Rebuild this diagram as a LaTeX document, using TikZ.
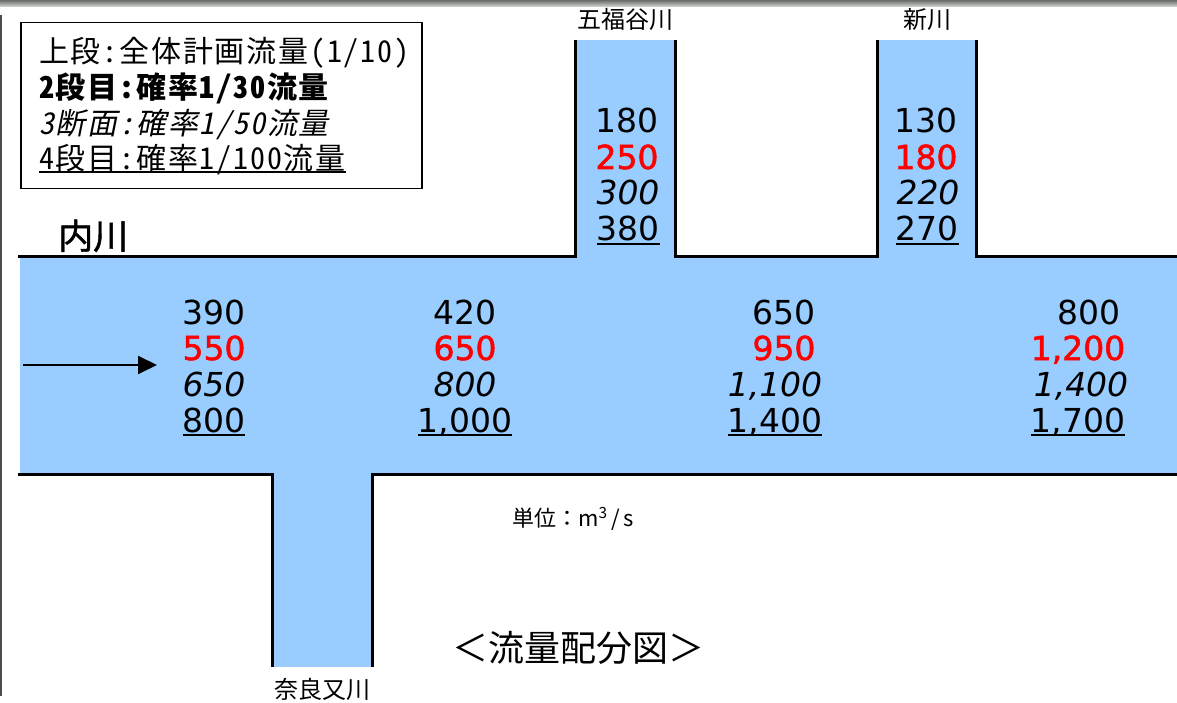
\documentclass[tikz,border=0pt]{standalone}
\usepackage{fontspec}
\usetikzlibrary{arrows.meta}
\newfontfamily\jp{Noto Sans CJK JP}
\newfontfamily\jpleg{Noto Sans CJK JP}[RawFeature=+hwid, LetterSpace=6]
\newfontfamily\jpsl{Noto Sans CJK JP}[FakeSlant=0.2, RawFeature=+hwid, LetterSpace=6]
\newfontfamily\jpfb{Noto Sans CJK JP}[FakeBold=1.2]
\newfontfamily\numf{DejaVu Sans}
\newfontfamily\numfb{DejaVu Sans}[FakeBold=1.6]
\definecolor{river}{HTML}{99CCFF}
\definecolor{barTop}{RGB}{105,108,105}
\definecolor{barBot}{RGB}{215,220,215}
\newcommand\uln[2][1.8pt]{\setbox0\hbox{#2}\rlap{\rule[-0.11em]{\wd0}{#1}}\box0}
\tikzset{
  wall/.style={line width=3pt, black},
  num/.style={font=\numf\fontsize{33pt}{36pt}\selectfont, inner sep=0pt, anchor=base},
  numr/.style={font=\numfb\fontsize{33pt}{36pt}\selectfont, inner sep=0pt, anchor=base, text=red},
  numi/.style={font=\numf\itshape\fontsize{33pt}{36pt}\selectfont, inner sep=0pt, anchor=base},
  lbl/.style={font=\jp\fontsize{24pt}{28pt}\selectfont, inner sep=0pt, anchor=base},
  leg/.style={font=\jpleg\fontsize{30pt}{32pt}\selectfont, inner sep=0pt, anchor=base west},
}
\begin{document}
\begin{tikzpicture}[x=1pt,y=-1pt]
\useasboundingbox (0,0) rectangle (1177,703);
\fill[white] (0,0) rectangle (1177,703);
% top bar and left edge
\shade[top color=barTop, bottom color=barBot] (0,0) rectangle (1177,7);
\draw[line width=2pt, gray!60!black] (1,15) -- (1,696);
% river fill
\fill[river] (20,258) rectangle (1177,473);
\fill[river] (575,40) rectangle (675,259);
\fill[river] (877,40) rectangle (976,259);
\fill[river] (272,472) rectangle (372,667);
% river banks
\draw[wall] (18,257) -- (575,257) -- (575,40);
\draw[wall] (675,40) -- (675,257) -- (877,257) -- (877,40);
\draw[wall] (976,40) -- (976,257) -- (1177,257);
\draw[wall] (18,474) -- (272,474) -- (272,667);
\draw[wall] (372,667) -- (372,474) -- (1177,474);
% legend
\node[draw, line width=1.5pt, minimum width=401pt, minimum height=166pt, anchor=north west, inner sep=0pt] (legend) at (20,22) {};
\node[leg] (l1) at (39,63) {上段:全体計画流量(1/10)};
\node[leg, font=\jpleg\bfseries\fontsize{30pt}{32pt}\selectfont] (l2) at (39,99) {2段目:確率1/30流量};
\node[leg, font=\jpsl\fontsize{30pt}{32pt}\selectfont] (l3) at (39,135) {3断面:確率1/50流量};
\node[leg] (l4) at (39,170) {\uln[2pt]{4段目:確率1/100流量}};
% labels
\node[lbl, font=\jpfb\fontsize{35pt}{38pt}\selectfont, anchor=base west] (uchi) at (58,249) {内川};
\node[lbl] (gofuku) at (625,29) {五福谷川};
\node[lbl] (shin) at (927,29) {新川};
\node[lbl] (narama) at (322,698) {奈良又川};
\node[lbl, font=\jp\fontsize{22pt}{26pt}\selectfont, anchor=base west] (unit) at (512,526) {単位：m\textsuperscript{3}\,/\,s};
\node[lbl, font=\jp\fontsize{36pt}{40pt}\selectfont] (title) at (578,661) {＜流量配分図＞};
% arrow
\coordinate (a0) at (23,365);
\coordinate (a1) at (157,365);
\draw[line width=2pt, -{Triangle[length=19pt,width=18pt]}] (a0) -- (a1);
% tributary numbers
\node[num]  (g1) at (627,133) {180};
\node[numr] (g2) at (627,169) {250};
\node[numi] (g3) at (628,205) {300};
\node[num]  (g4) at (628,241) {\uln{380}};
\node[num]  (s1) at (926,133) {130};
\node[numr] (s2) at (926,169) {180};
\node[numi] (s3) at (928,205) {220};
\node[num]  (s4) at (927,241) {\uln{270}};
% main river numbers
\node[num]  (c1a) at (214,324) {390};
\node[numr] (c1b) at (214,360) {550};
\node[numi] (c1c) at (214,396) {650};
\node[num]  (c1d) at (214,432) {\uln{800}};
\node[num]  (c2a) at (465,324) {420};
\node[numr] (c2b) at (465,360) {650};
\node[numi] (c2c) at (465,396) {800};
\node[num]  (c2d) at (465,432) {\uln{1,000}};
\node[num]  (c3a) at (784,324) {650};
\node[numr] (c3b) at (784,360) {950};
\node[numi] (c3c) at (775,396) {1,100};
\node[num]  (c3d) at (775,432) {\uln{1,400}};
\node[num]  (c4a) at (1089,324) {800};
\node[numr] (c4b) at (1078,360) {1,200};
\node[numi] (c4c) at (1081,396) {1,400};
\node[num]  (c4d) at (1078,432) {\uln{1,700}};
\end{tikzpicture}
\end{document}
